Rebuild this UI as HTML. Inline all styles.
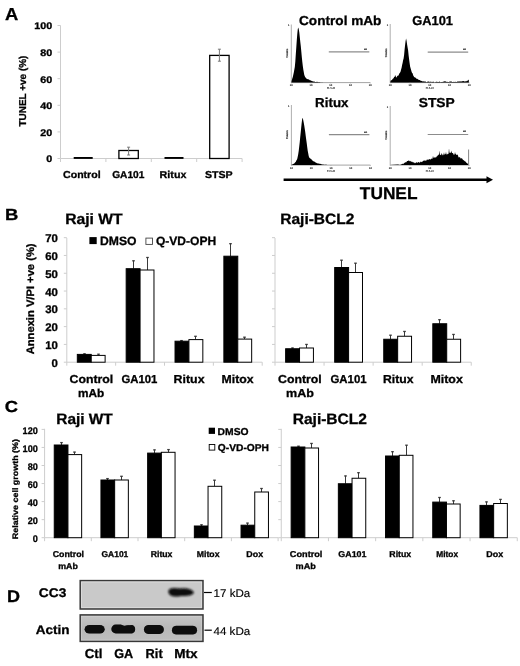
<!DOCTYPE html>
<html><head><meta charset="utf-8"><style>
html,body{margin:0;padding:0;background:#fff;}
svg{display:block;font-family:"Liberation Sans", Arial, sans-serif;font-weight:bold;text-rendering:geometricPrecision;}
text{stroke:currentColor;stroke-width:0.3px;}
text[font-weight=normal]{stroke-width:0.15px;}
</style></head><body>
<svg width="520" height="666" viewBox="0 0 520 666">
<rect x="0" y="0" width="520" height="666" fill="#fff"/>
<text x="4.94" y="20.00" font-size="17.4" textLength="13.26" lengthAdjust="spacingAndGlyphs">A</text>
<line x1="60.50" y1="25.50" x2="60.50" y2="158.50" stroke="#cdcdcd" stroke-width="1"/>
<line x1="60.50" y1="158.50" x2="242.10" y2="158.50" stroke="#cdcdcd" stroke-width="1"/>
<line x1="57.50" y1="158.50" x2="60.50" y2="158.50" stroke="#cdcdcd" stroke-width="1"/>
<text x="46.26" y="162.40" font-size="9.6" textLength="5.98" lengthAdjust="spacingAndGlyphs">0</text>
<line x1="57.50" y1="131.90" x2="60.50" y2="131.90" stroke="#cdcdcd" stroke-width="1"/>
<text x="40.30" y="135.80" font-size="9.6" textLength="11.96" lengthAdjust="spacingAndGlyphs">20</text>
<line x1="57.50" y1="105.30" x2="60.50" y2="105.30" stroke="#cdcdcd" stroke-width="1"/>
<text x="40.30" y="109.20" font-size="9.6" textLength="11.96" lengthAdjust="spacingAndGlyphs">40</text>
<line x1="57.50" y1="78.70" x2="60.50" y2="78.70" stroke="#cdcdcd" stroke-width="1"/>
<text x="40.30" y="82.60" font-size="9.6" textLength="11.96" lengthAdjust="spacingAndGlyphs">60</text>
<line x1="57.50" y1="52.10" x2="60.50" y2="52.10" stroke="#cdcdcd" stroke-width="1"/>
<text x="40.30" y="56.00" font-size="9.6" textLength="11.96" lengthAdjust="spacingAndGlyphs">80</text>
<line x1="57.50" y1="25.50" x2="60.50" y2="25.50" stroke="#cdcdcd" stroke-width="1"/>
<text x="34.33" y="29.40" font-size="9.6" textLength="17.94" lengthAdjust="spacingAndGlyphs">100</text>
<line x1="60.50" y1="158.50" x2="60.50" y2="162.00" stroke="#cdcdcd" stroke-width="1"/>
<line x1="105.90" y1="158.50" x2="105.90" y2="162.00" stroke="#cdcdcd" stroke-width="1"/>
<line x1="151.30" y1="158.50" x2="151.30" y2="162.00" stroke="#cdcdcd" stroke-width="1"/>
<line x1="196.70" y1="158.50" x2="196.70" y2="162.00" stroke="#cdcdcd" stroke-width="1"/>
<line x1="242.10" y1="158.50" x2="242.10" y2="162.00" stroke="#cdcdcd" stroke-width="1"/>
<text x="26.20" y="126.60" font-size="10" transform="rotate(-90 26.20 126.60)" textLength="71.07" lengthAdjust="spacingAndGlyphs">TUNEL +ve (%)</text>
<rect x="73.70" y="157.00" width="19.00" height="1.90" fill="#000"/>
<text x="63.08" y="177.50" font-size="10" textLength="37.51" lengthAdjust="spacingAndGlyphs">Control</text>
<rect x="118.90" y="150.50" width="19.40" height="8.00" fill="#fff" stroke="#000" stroke-width="1.3"/>
<line x1="128.60" y1="147.20" x2="128.60" y2="155.00" stroke="#777" stroke-width="1"/>
<line x1="127.10" y1="147.20" x2="130.10" y2="147.20" stroke="#777" stroke-width="1"/>
<line x1="127.10" y1="155.00" x2="130.10" y2="155.00" stroke="#777" stroke-width="1"/>
<text x="112.19" y="177.50" font-size="10" textLength="32.20" lengthAdjust="spacingAndGlyphs">GA101</text>
<rect x="164.50" y="157.00" width="19.00" height="1.90" fill="#000"/>
<text x="159.60" y="177.50" font-size="10" textLength="26.80" lengthAdjust="spacingAndGlyphs">Ritux</text>
<rect x="209.70" y="55.40" width="19.40" height="103.10" fill="#fff" stroke="#000" stroke-width="1.3"/>
<line x1="219.40" y1="49.20" x2="219.40" y2="61.20" stroke="#777" stroke-width="1"/>
<line x1="217.90" y1="49.20" x2="220.90" y2="49.20" stroke="#777" stroke-width="1"/>
<line x1="217.90" y1="61.20" x2="220.90" y2="61.20" stroke="#777" stroke-width="1"/>
<text x="204.98" y="177.50" font-size="10" textLength="27.66" lengthAdjust="spacingAndGlyphs">STSP</text>
<line x1="291.30" y1="24.50" x2="291.30" y2="82.60" stroke="#999" stroke-width="0.8"/>
<line x1="291.30" y1="82.60" x2="370.30" y2="82.60" stroke="#9a9a9a" stroke-width="0.9"/>
<polygon points="291.3,82.6 291.8,80.3 292.3,78.4 292.8,76.9 293.3,74.7 293.8,72.5 294.3,69.8 294.8,67.0 295.3,61.8 295.8,54.2 296.3,47.2 296.8,39.9 297.3,33.7 297.8,29.1 298.3,27.4 298.8,29.5 299.3,32.4 299.8,37.2 300.3,41.9 300.8,46.3 301.3,51.5 301.8,57.0 302.3,61.8 302.8,66.0 303.3,69.5 303.8,72.3 304.3,75.0 304.8,76.3 305.3,77.3 305.8,77.8 306.3,78.5 306.8,78.8 307.3,78.9 307.8,79.2 308.3,79.2 308.8,79.5 309.3,79.8 309.8,80.2 310.3,80.3 310.8,80.4 311.3,80.7 311.8,80.9 312.3,81.0 312.8,81.4 313.3,81.6 313.8,81.4 314.3,81.6 314.8,81.7 315.3,81.9 315.8,81.9 316.3,81.7 316.8,82.1 317.3,81.7 317.8,81.9 318.3,82.2 318.8,81.9 319.3,82.2 319.8,82.0 320.3,82.3 320.8,82.4 321.3,82.3 321.8,82.5 322.3,82.2 322.8,82.5 323.3,82.4 323.8,82.5 324.3,82.4 324.8,82.6 325.3,82.6 325.8,82.5 326.3,82.6 326.8,82.4 326.8,82.6" fill="#000"/>
<line x1="328.80" y1="51.80" x2="369.30" y2="51.80" stroke="#8c8c8c" stroke-width="1.2"/>
<text x="364.00" y="49.60" font-size="2.2" font-weight="normal" fill="#333" stroke="#333">M1</text>
<text x="291.30" y="86.00" font-size="2.6" font-weight="normal" text-anchor="middle" fill="#777" stroke="#777">10</text>
<line x1="291.30" y1="82.60" x2="291.30" y2="83.40" stroke="#999" stroke-width="0.6"/>
<text x="311.05" y="86.00" font-size="2.6" font-weight="normal" text-anchor="middle" fill="#777" stroke="#777">10</text>
<line x1="311.05" y1="82.60" x2="311.05" y2="83.40" stroke="#999" stroke-width="0.6"/>
<text x="330.80" y="86.00" font-size="2.6" font-weight="normal" text-anchor="middle" fill="#777" stroke="#777">10</text>
<line x1="330.80" y1="82.60" x2="330.80" y2="83.40" stroke="#999" stroke-width="0.6"/>
<text x="350.55" y="86.00" font-size="2.6" font-weight="normal" text-anchor="middle" fill="#777" stroke="#777">10</text>
<line x1="350.55" y1="82.60" x2="350.55" y2="83.40" stroke="#999" stroke-width="0.6"/>
<text x="370.30" y="86.00" font-size="2.6" font-weight="normal" text-anchor="middle" fill="#777" stroke="#777">10</text>
<line x1="370.30" y1="82.60" x2="370.30" y2="83.40" stroke="#999" stroke-width="0.6"/>
<text x="330.80" y="89.40" font-size="2.8" font-weight="normal" text-anchor="middle" fill="#777" stroke="#777">FL1-H</text>
<text x="288.00" y="53.05" font-size="2.8" font-weight="normal" text-anchor="middle" fill="#666" stroke="#666" transform="rotate(-90 288.00 53.05)">Counts</text>
<text x="288.70" y="26.10" font-size="2.6" font-weight="normal" text-anchor="middle" fill="#777" stroke="#777">1</text>
<text x="299.06" y="24.50" font-size="13" textLength="82.39" lengthAdjust="spacingAndGlyphs">Control mAb</text>
<line x1="390.20" y1="24.00" x2="390.20" y2="82.60" stroke="#999" stroke-width="0.8"/>
<line x1="390.20" y1="82.60" x2="469.20" y2="82.60" stroke="#9a9a9a" stroke-width="0.9"/>
<polygon points="390.2,82.6 390.6,80.7 391.1,80.3 391.6,80.2 392.1,79.7 392.6,78.9 393.1,78.5 393.6,78.3 394.1,77.1 394.6,77.1 395.1,74.9 395.6,76.0 396.1,77.2 396.6,77.4 397.1,76.2 397.6,75.8 398.1,75.5 398.6,75.4 399.1,73.7 399.6,73.2 400.1,72.4 400.6,71.5 401.1,69.5 401.6,67.7 402.1,65.1 402.6,62.9 403.1,60.3 403.6,58.5 404.1,55.1 404.6,49.4 405.1,45.1 405.6,40.9 406.1,38.4 406.6,41.1 407.1,44.6 407.6,47.4 408.1,50.3 408.6,55.3 409.1,59.3 409.6,63.0 410.1,66.6 410.6,68.3 411.1,70.1 411.6,71.8 412.1,72.9 412.6,73.3 413.1,75.2 413.6,76.1 414.1,76.9 414.6,77.3 415.1,77.4 415.6,77.8 416.1,78.1 416.6,79.0 417.1,78.8 417.6,79.1 418.1,79.5 418.6,79.7 419.1,80.1 419.6,80.1 420.1,80.3 420.6,80.7 421.1,80.7 421.6,81.1 422.1,80.9 422.6,81.6 423.1,81.5 423.6,81.2 424.1,81.4 424.6,81.5 425.1,81.6 425.6,81.5 426.1,82.1 426.6,82.2 427.1,81.8 427.6,81.8 428.1,81.5 428.6,81.5 429.1,81.7 429.6,81.7 430.1,82.2 430.6,81.6 431.1,81.5 431.6,82.3 432.1,82.0 432.6,81.7 433.1,82.0 433.6,81.6 434.1,82.0 434.6,82.4 435.1,82.3 435.6,82.1 436.1,81.8 436.6,81.8 437.1,81.7 437.6,82.1 438.1,81.9 438.6,82.1 439.1,81.7 439.6,81.6 440.1,82.1 440.6,82.2 441.1,82.1 441.6,82.1 442.1,82.0 442.6,82.0 443.1,81.5 443.6,81.8 444.1,81.6 444.6,81.3 445.1,81.3 445.6,81.5 446.1,81.5 446.6,81.9 447.1,82.1 447.6,81.7 448.1,82.1 448.6,82.1 449.1,82.1 449.6,81.6 450.1,81.5 450.6,81.5 451.1,81.5 451.6,81.5 452.1,81.9 452.6,82.1 453.1,82.1 453.6,81.8 454.1,81.9 454.6,82.0 455.1,81.4 455.6,81.9 456.1,82.0 456.6,81.9 457.1,81.8 457.6,81.5 458.1,81.2 458.6,81.7 459.1,81.2 459.6,81.6 460.1,81.7 460.6,81.2 461.1,81.2 461.6,81.6 462.1,81.4 462.6,81.0 463.1,80.9 463.6,80.9 464.1,81.6 464.6,81.5 465.1,80.9 465.6,81.4 466.1,81.4 466.6,81.1 467.1,80.7 467.6,80.8 468.1,80.3 468.8,79.5 468.9,82.6 468.9,82.6" fill="#000"/>
<line x1="427.70" y1="52.20" x2="468.20" y2="52.20" stroke="#8c8c8c" stroke-width="1.2"/>
<text x="462.90" y="50.00" font-size="2.2" font-weight="normal" fill="#333" stroke="#333">M1</text>
<text x="390.20" y="86.00" font-size="2.6" font-weight="normal" text-anchor="middle" fill="#777" stroke="#777">10</text>
<line x1="390.20" y1="82.60" x2="390.20" y2="83.40" stroke="#999" stroke-width="0.6"/>
<text x="409.95" y="86.00" font-size="2.6" font-weight="normal" text-anchor="middle" fill="#777" stroke="#777">10</text>
<line x1="409.95" y1="82.60" x2="409.95" y2="83.40" stroke="#999" stroke-width="0.6"/>
<text x="429.70" y="86.00" font-size="2.6" font-weight="normal" text-anchor="middle" fill="#777" stroke="#777">10</text>
<line x1="429.70" y1="82.60" x2="429.70" y2="83.40" stroke="#999" stroke-width="0.6"/>
<text x="449.45" y="86.00" font-size="2.6" font-weight="normal" text-anchor="middle" fill="#777" stroke="#777">10</text>
<line x1="449.45" y1="82.60" x2="449.45" y2="83.40" stroke="#999" stroke-width="0.6"/>
<text x="469.20" y="86.00" font-size="2.6" font-weight="normal" text-anchor="middle" fill="#777" stroke="#777">10</text>
<line x1="469.20" y1="82.60" x2="469.20" y2="83.40" stroke="#999" stroke-width="0.6"/>
<text x="429.70" y="89.40" font-size="2.8" font-weight="normal" text-anchor="middle" fill="#777" stroke="#777">FL1-H</text>
<text x="386.90" y="52.80" font-size="2.8" font-weight="normal" text-anchor="middle" fill="#666" stroke="#666" transform="rotate(-90 386.90 52.80)">Counts</text>
<text x="387.60" y="25.60" font-size="2.6" font-weight="normal" text-anchor="middle" fill="#777" stroke="#777">1</text>
<text x="412.29" y="24.50" font-size="13" textLength="40.68" lengthAdjust="spacingAndGlyphs">GA101</text>
<line x1="291.40" y1="105.00" x2="291.40" y2="165.10" stroke="#999" stroke-width="0.8"/>
<line x1="291.40" y1="165.10" x2="370.40" y2="165.10" stroke="#9a9a9a" stroke-width="0.9"/>
<polygon points="291.4,165.1 293.7,163.7 294.2,163.6 294.7,162.9 295.2,162.3 295.7,162.0 296.2,160.8 296.7,160.0 297.2,159.0 297.7,156.8 298.2,154.3 298.7,151.1 299.2,146.7 299.7,142.4 300.2,137.3 300.7,132.5 301.2,127.4 301.7,122.8 302.2,118.9 302.7,117.8 303.2,120.0 303.7,122.4 304.2,125.3 304.7,128.6 305.2,131.8 305.7,135.7 306.2,139.6 306.7,143.1 307.2,147.1 307.7,150.7 308.2,153.2 308.7,156.0 309.2,157.4 309.7,157.9 310.2,158.5 310.7,158.8 311.2,159.1 311.7,159.7 312.2,160.2 312.7,160.8 313.2,161.0 313.7,161.4 314.2,161.5 314.7,161.8 315.2,162.3 315.7,162.4 316.2,162.7 316.7,163.0 317.2,163.4 317.7,163.3 318.2,163.5 318.7,163.5 319.2,163.7 319.7,163.8 320.2,163.8 320.7,164.0 321.2,164.0 321.7,164.4 322.2,164.4 322.7,164.5 323.2,164.7 323.7,164.4 324.2,164.6 324.7,164.9 325.2,164.9 325.7,164.6 326.2,164.6 326.7,164.9 326.7,165.1" fill="#000"/>
<line x1="328.90" y1="134.70" x2="369.40" y2="134.70" stroke="#8c8c8c" stroke-width="1.2"/>
<text x="364.10" y="132.50" font-size="2.2" font-weight="normal" fill="#333" stroke="#333">M1</text>
<text x="291.40" y="168.50" font-size="2.6" font-weight="normal" text-anchor="middle" fill="#777" stroke="#777">10</text>
<line x1="291.40" y1="165.10" x2="291.40" y2="165.90" stroke="#999" stroke-width="0.6"/>
<text x="311.15" y="168.50" font-size="2.6" font-weight="normal" text-anchor="middle" fill="#777" stroke="#777">10</text>
<line x1="311.15" y1="165.10" x2="311.15" y2="165.90" stroke="#999" stroke-width="0.6"/>
<text x="330.90" y="168.50" font-size="2.6" font-weight="normal" text-anchor="middle" fill="#777" stroke="#777">10</text>
<line x1="330.90" y1="165.10" x2="330.90" y2="165.90" stroke="#999" stroke-width="0.6"/>
<text x="350.65" y="168.50" font-size="2.6" font-weight="normal" text-anchor="middle" fill="#777" stroke="#777">10</text>
<line x1="350.65" y1="165.10" x2="350.65" y2="165.90" stroke="#999" stroke-width="0.6"/>
<text x="370.40" y="168.50" font-size="2.6" font-weight="normal" text-anchor="middle" fill="#777" stroke="#777">10</text>
<line x1="370.40" y1="165.10" x2="370.40" y2="165.90" stroke="#999" stroke-width="0.6"/>
<text x="330.90" y="171.90" font-size="2.8" font-weight="normal" text-anchor="middle" fill="#777" stroke="#777">FL1-H</text>
<text x="288.10" y="134.55" font-size="2.8" font-weight="normal" text-anchor="middle" fill="#666" stroke="#666" transform="rotate(-90 288.10 134.55)">Counts</text>
<text x="288.80" y="106.60" font-size="2.6" font-weight="normal" text-anchor="middle" fill="#777" stroke="#777">1</text>
<text x="315.13" y="106.90" font-size="13" textLength="33.30" lengthAdjust="spacingAndGlyphs">Ritux</text>
<line x1="390.20" y1="106.00" x2="390.20" y2="165.10" stroke="#999" stroke-width="0.8"/>
<line x1="390.20" y1="165.10" x2="469.20" y2="165.10" stroke="#9a9a9a" stroke-width="0.9"/>
<polygon points="390.2,165.1 398.0,164.6 398.5,164.7 399.0,164.4 399.5,164.9 400.0,165.0 400.5,165.0 401.0,164.1 401.5,164.5 402.0,164.3 402.5,163.5 403.0,164.2 403.5,164.0 404.0,162.8 404.5,163.3 405.0,162.3 405.5,162.2 406.0,162.6 406.5,162.1 407.0,161.0 407.5,161.1 408.0,161.0 408.5,160.6 409.0,160.5 409.5,160.9 410.0,161.6 410.5,160.8 411.0,161.7 411.5,161.8 412.0,161.4 412.5,161.9 413.0,162.4 413.5,162.4 414.0,162.0 414.5,163.2 415.0,163.0 415.5,163.3 416.0,162.2 416.5,162.5 417.0,162.2 417.5,163.0 418.0,162.3 418.5,162.0 419.0,162.2 419.5,162.8 420.0,162.5 420.5,161.7 421.0,161.4 421.5,162.3 422.0,161.7 422.5,161.8 423.0,160.7 423.5,160.5 424.0,161.2 424.5,160.6 425.0,159.9 425.5,161.0 426.0,160.4 426.5,160.5 427.0,159.3 427.5,160.3 428.0,159.0 428.5,160.1 429.0,159.4 429.5,159.1 430.0,159.3 430.5,159.8 431.0,158.7 431.5,158.4 432.0,158.9 432.5,158.4 433.0,155.8 433.5,157.9 434.0,157.5 434.5,157.6 435.0,157.6 435.5,157.3 436.0,157.7 436.5,156.5 437.0,156.6 437.5,155.6 438.0,155.6 438.5,154.6 439.0,154.7 439.5,150.6 440.0,155.3 440.5,155.0 441.0,154.4 441.5,152.8 442.0,155.8 442.5,154.0 443.0,155.4 443.5,154.5 444.0,152.2 444.5,155.1 445.0,154.1 445.5,154.2 446.0,151.8 446.5,155.0 447.0,153.5 447.5,154.5 448.0,154.1 448.5,153.8 449.0,148.2 449.5,153.1 450.0,152.5 450.5,152.8 451.0,152.7 451.5,150.6 452.0,153.2 452.5,153.0 453.0,152.9 453.5,154.6 454.0,154.8 454.5,154.5 455.0,152.0 455.5,153.9 456.0,154.2 456.5,154.9 457.0,154.7 457.5,154.6 458.0,155.6 458.5,157.2 459.0,157.6 459.5,157.2 460.0,157.0 460.5,158.7 461.0,158.0 461.5,158.4 462.0,158.3 462.5,159.3 463.0,159.8 463.5,160.3 464.0,160.3 464.5,161.2 465.0,161.0 465.5,161.8 466.0,162.0 466.5,162.9 467.0,162.9 467.5,163.4 468.0,164.2 468.0,165.1" fill="#000"/>
<line x1="427.70" y1="134.50" x2="468.20" y2="134.50" stroke="#8c8c8c" stroke-width="1.2"/>
<text x="462.90" y="132.30" font-size="2.2" font-weight="normal" fill="#333" stroke="#333">M1</text>
<text x="390.20" y="168.50" font-size="2.6" font-weight="normal" text-anchor="middle" fill="#777" stroke="#777">10</text>
<line x1="390.20" y1="165.10" x2="390.20" y2="165.90" stroke="#999" stroke-width="0.6"/>
<text x="409.95" y="168.50" font-size="2.6" font-weight="normal" text-anchor="middle" fill="#777" stroke="#777">10</text>
<line x1="409.95" y1="165.10" x2="409.95" y2="165.90" stroke="#999" stroke-width="0.6"/>
<text x="429.70" y="168.50" font-size="2.6" font-weight="normal" text-anchor="middle" fill="#777" stroke="#777">10</text>
<line x1="429.70" y1="165.10" x2="429.70" y2="165.90" stroke="#999" stroke-width="0.6"/>
<text x="449.45" y="168.50" font-size="2.6" font-weight="normal" text-anchor="middle" fill="#777" stroke="#777">10</text>
<line x1="449.45" y1="165.10" x2="449.45" y2="165.90" stroke="#999" stroke-width="0.6"/>
<text x="469.20" y="168.50" font-size="2.6" font-weight="normal" text-anchor="middle" fill="#777" stroke="#777">10</text>
<line x1="469.20" y1="165.10" x2="469.20" y2="165.90" stroke="#999" stroke-width="0.6"/>
<text x="429.70" y="171.90" font-size="2.8" font-weight="normal" text-anchor="middle" fill="#777" stroke="#777">FL1-H</text>
<text x="386.90" y="135.05" font-size="2.8" font-weight="normal" text-anchor="middle" fill="#666" stroke="#666" transform="rotate(-90 386.90 135.05)">Counts</text>
<text x="387.60" y="107.60" font-size="2.6" font-weight="normal" text-anchor="middle" fill="#777" stroke="#777">1</text>
<text x="418.79" y="107.10" font-size="13" textLength="35.95" lengthAdjust="spacingAndGlyphs">STSP</text>
<line x1="468.60" y1="149.50" x2="468.60" y2="165.10" stroke="#777" stroke-width="0.9"/>
<line x1="283.60" y1="179.80" x2="488.00" y2="179.80" stroke="#000" stroke-width="2.6"/>
<polygon points="486.5,176.3 493.0,179.8 486.5,183.3" fill="#000"/>
<text x="359.83" y="199.00" font-size="17" textLength="57.65" lengthAdjust="spacingAndGlyphs">TUNEL</text>
<text x="5.05" y="220.00" font-size="16" textLength="13.32" lengthAdjust="spacingAndGlyphs">B</text>
<text x="65.23" y="224.30" font-size="15" textLength="57.45" lengthAdjust="spacingAndGlyphs">Raji WT</text>
<text x="280.24" y="224.30" font-size="15" textLength="74.18" lengthAdjust="spacingAndGlyphs">Raji-BCL2</text>
<line x1="66.80" y1="238.00" x2="66.80" y2="362.20" stroke="#cdcdcd" stroke-width="1"/>
<line x1="66.80" y1="362.20" x2="262.20" y2="362.20" stroke="#cdcdcd" stroke-width="1"/>
<line x1="63.80" y1="362.20" x2="66.80" y2="362.20" stroke="#cdcdcd" stroke-width="1"/>
<text x="51.52" y="366.68" font-size="11.2" textLength="6.35" lengthAdjust="spacingAndGlyphs">0</text>
<line x1="63.80" y1="344.41" x2="66.80" y2="344.41" stroke="#cdcdcd" stroke-width="1"/>
<text x="45.18" y="348.89" font-size="11.2" textLength="12.71" lengthAdjust="spacingAndGlyphs">10</text>
<line x1="63.80" y1="326.62" x2="66.80" y2="326.62" stroke="#cdcdcd" stroke-width="1"/>
<text x="45.18" y="331.10" font-size="11.2" textLength="12.71" lengthAdjust="spacingAndGlyphs">20</text>
<line x1="63.80" y1="308.83" x2="66.80" y2="308.83" stroke="#cdcdcd" stroke-width="1"/>
<text x="45.18" y="313.31" font-size="11.2" textLength="12.71" lengthAdjust="spacingAndGlyphs">30</text>
<line x1="63.80" y1="291.04" x2="66.80" y2="291.04" stroke="#cdcdcd" stroke-width="1"/>
<text x="45.18" y="295.52" font-size="11.2" textLength="12.71" lengthAdjust="spacingAndGlyphs">40</text>
<line x1="63.80" y1="273.25" x2="66.80" y2="273.25" stroke="#cdcdcd" stroke-width="1"/>
<text x="45.18" y="277.73" font-size="11.2" textLength="12.71" lengthAdjust="spacingAndGlyphs">50</text>
<line x1="63.80" y1="255.46" x2="66.80" y2="255.46" stroke="#cdcdcd" stroke-width="1"/>
<text x="45.18" y="259.94" font-size="11.2" textLength="12.71" lengthAdjust="spacingAndGlyphs">60</text>
<line x1="63.80" y1="237.67" x2="66.80" y2="237.67" stroke="#cdcdcd" stroke-width="1"/>
<text x="45.18" y="242.15" font-size="11.2" textLength="12.71" lengthAdjust="spacingAndGlyphs">70</text>
<line x1="66.80" y1="362.20" x2="66.80" y2="365.70" stroke="#cdcdcd" stroke-width="1"/>
<line x1="115.65" y1="362.20" x2="115.65" y2="365.70" stroke="#cdcdcd" stroke-width="1"/>
<line x1="164.50" y1="362.20" x2="164.50" y2="365.70" stroke="#cdcdcd" stroke-width="1"/>
<line x1="213.35" y1="362.20" x2="213.35" y2="365.70" stroke="#cdcdcd" stroke-width="1"/>
<line x1="262.20" y1="362.20" x2="262.20" y2="365.70" stroke="#cdcdcd" stroke-width="1"/>
<line x1="84.50" y1="354.40" x2="84.50" y2="353.60" stroke="#3a3a3a" stroke-width="1"/>
<line x1="83.20" y1="353.80" x2="85.80" y2="353.80" stroke="#3a3a3a" stroke-width="1.3"/>
<line x1="98.50" y1="355.40" x2="98.50" y2="354.00" stroke="#3a3a3a" stroke-width="1"/>
<line x1="97.20" y1="354.20" x2="99.80" y2="354.20" stroke="#3a3a3a" stroke-width="1.3"/>
<rect x="77.32" y="354.40" width="13.90" height="7.80" fill="#000" stroke="#000" stroke-width="1"/>
<rect x="91.22" y="355.40" width="13.90" height="6.80" fill="#fff" stroke="#000" stroke-width="1"/>
<line x1="133.50" y1="268.70" x2="133.50" y2="260.60" stroke="#3a3a3a" stroke-width="1"/>
<line x1="132.20" y1="260.80" x2="134.80" y2="260.80" stroke="#3a3a3a" stroke-width="1.3"/>
<line x1="147.50" y1="270.00" x2="147.50" y2="257.30" stroke="#3a3a3a" stroke-width="1"/>
<line x1="146.20" y1="257.50" x2="148.80" y2="257.50" stroke="#3a3a3a" stroke-width="1.3"/>
<rect x="126.17" y="268.70" width="13.90" height="93.50" fill="#000" stroke="#000" stroke-width="1"/>
<rect x="140.07" y="270.00" width="13.90" height="92.20" fill="#fff" stroke="#000" stroke-width="1"/>
<line x1="181.50" y1="341.20" x2="181.50" y2="340.40" stroke="#3a3a3a" stroke-width="1"/>
<line x1="180.20" y1="340.60" x2="182.80" y2="340.60" stroke="#3a3a3a" stroke-width="1.3"/>
<line x1="195.50" y1="339.60" x2="195.50" y2="336.10" stroke="#3a3a3a" stroke-width="1"/>
<line x1="194.20" y1="336.30" x2="196.80" y2="336.30" stroke="#3a3a3a" stroke-width="1.3"/>
<rect x="175.03" y="341.20" width="13.90" height="21.00" fill="#000" stroke="#000" stroke-width="1"/>
<rect x="188.93" y="339.60" width="13.90" height="22.60" fill="#fff" stroke="#000" stroke-width="1"/>
<line x1="230.50" y1="256.20" x2="230.50" y2="243.50" stroke="#3a3a3a" stroke-width="1"/>
<line x1="229.20" y1="243.70" x2="231.80" y2="243.70" stroke="#3a3a3a" stroke-width="1.3"/>
<line x1="244.50" y1="339.10" x2="244.50" y2="337.00" stroke="#3a3a3a" stroke-width="1"/>
<line x1="243.20" y1="337.20" x2="245.80" y2="337.20" stroke="#3a3a3a" stroke-width="1.3"/>
<rect x="223.87" y="256.20" width="13.90" height="106.00" fill="#000" stroke="#000" stroke-width="1"/>
<rect x="237.77" y="339.10" width="13.90" height="23.10" fill="#fff" stroke="#000" stroke-width="1"/>
<line x1="275.00" y1="238.00" x2="275.00" y2="362.20" stroke="#cdcdcd" stroke-width="1"/>
<line x1="275.00" y1="362.20" x2="471.24" y2="362.20" stroke="#cdcdcd" stroke-width="1"/>
<line x1="272.00" y1="362.20" x2="275.00" y2="362.20" stroke="#cdcdcd" stroke-width="1"/>
<line x1="272.00" y1="344.41" x2="275.00" y2="344.41" stroke="#cdcdcd" stroke-width="1"/>
<line x1="272.00" y1="326.62" x2="275.00" y2="326.62" stroke="#cdcdcd" stroke-width="1"/>
<line x1="272.00" y1="308.83" x2="275.00" y2="308.83" stroke="#cdcdcd" stroke-width="1"/>
<line x1="272.00" y1="291.04" x2="275.00" y2="291.04" stroke="#cdcdcd" stroke-width="1"/>
<line x1="272.00" y1="273.25" x2="275.00" y2="273.25" stroke="#cdcdcd" stroke-width="1"/>
<line x1="272.00" y1="255.46" x2="275.00" y2="255.46" stroke="#cdcdcd" stroke-width="1"/>
<line x1="272.00" y1="237.67" x2="275.00" y2="237.67" stroke="#cdcdcd" stroke-width="1"/>
<line x1="275.00" y1="362.20" x2="275.00" y2="365.70" stroke="#cdcdcd" stroke-width="1"/>
<line x1="324.06" y1="362.20" x2="324.06" y2="365.70" stroke="#cdcdcd" stroke-width="1"/>
<line x1="373.12" y1="362.20" x2="373.12" y2="365.70" stroke="#cdcdcd" stroke-width="1"/>
<line x1="422.18" y1="362.20" x2="422.18" y2="365.70" stroke="#cdcdcd" stroke-width="1"/>
<line x1="471.24" y1="362.20" x2="471.24" y2="365.70" stroke="#cdcdcd" stroke-width="1"/>
<line x1="292.50" y1="348.75" x2="292.50" y2="347.80" stroke="#3a3a3a" stroke-width="1"/>
<line x1="291.20" y1="348.00" x2="293.80" y2="348.00" stroke="#3a3a3a" stroke-width="1.3"/>
<line x1="306.50" y1="348.00" x2="306.50" y2="344.25" stroke="#3a3a3a" stroke-width="1"/>
<line x1="305.20" y1="344.45" x2="307.80" y2="344.45" stroke="#3a3a3a" stroke-width="1.3"/>
<rect x="285.63" y="348.75" width="13.90" height="13.45" fill="#000" stroke="#000" stroke-width="1"/>
<rect x="299.53" y="348.00" width="13.90" height="14.20" fill="#fff" stroke="#000" stroke-width="1"/>
<line x1="341.50" y1="267.50" x2="341.50" y2="260.00" stroke="#3a3a3a" stroke-width="1"/>
<line x1="340.20" y1="260.20" x2="342.80" y2="260.20" stroke="#3a3a3a" stroke-width="1.3"/>
<line x1="355.50" y1="272.50" x2="355.50" y2="263.00" stroke="#3a3a3a" stroke-width="1"/>
<line x1="354.20" y1="263.20" x2="356.80" y2="263.20" stroke="#3a3a3a" stroke-width="1.3"/>
<rect x="334.69" y="267.50" width="13.90" height="94.70" fill="#000" stroke="#000" stroke-width="1"/>
<rect x="348.59" y="272.50" width="13.90" height="89.70" fill="#fff" stroke="#000" stroke-width="1"/>
<line x1="390.50" y1="339.25" x2="390.50" y2="335.00" stroke="#3a3a3a" stroke-width="1"/>
<line x1="389.20" y1="335.20" x2="391.80" y2="335.20" stroke="#3a3a3a" stroke-width="1.3"/>
<line x1="404.50" y1="336.25" x2="404.50" y2="331.25" stroke="#3a3a3a" stroke-width="1"/>
<line x1="403.20" y1="331.45" x2="405.80" y2="331.45" stroke="#3a3a3a" stroke-width="1.3"/>
<rect x="383.75" y="339.25" width="13.90" height="22.95" fill="#000" stroke="#000" stroke-width="1"/>
<rect x="397.65" y="336.25" width="13.90" height="25.95" fill="#fff" stroke="#000" stroke-width="1"/>
<line x1="439.50" y1="323.75" x2="439.50" y2="319.50" stroke="#3a3a3a" stroke-width="1"/>
<line x1="438.20" y1="319.70" x2="440.80" y2="319.70" stroke="#3a3a3a" stroke-width="1.3"/>
<line x1="453.50" y1="339.25" x2="453.50" y2="334.25" stroke="#3a3a3a" stroke-width="1"/>
<line x1="452.20" y1="334.45" x2="454.80" y2="334.45" stroke="#3a3a3a" stroke-width="1.3"/>
<rect x="432.81" y="323.75" width="13.90" height="38.45" fill="#000" stroke="#000" stroke-width="1"/>
<rect x="446.71" y="339.25" width="13.90" height="22.95" fill="#fff" stroke="#000" stroke-width="1"/>
<text x="34.10" y="354.28" font-size="10.8" transform="rotate(-90 34.10 354.28)" textLength="110.83" lengthAdjust="spacingAndGlyphs">Annexin V/PI +ve (%)</text>
<rect x="89.40" y="237.10" width="7.30" height="7.00" fill="#000"/>
<text x="100.01" y="244.60" font-size="12" textLength="36.54" lengthAdjust="spacingAndGlyphs">DMSO</text>
<rect x="145.90" y="238.10" width="6.60" height="6.30" fill="#fff" stroke="#444" stroke-width="0.9"/>
<text x="155.92" y="244.60" font-size="12" textLength="60.27" lengthAdjust="spacingAndGlyphs">Q-VD-OPH</text>
<text x="69.51" y="383.00" font-size="11.5" textLength="43.71" lengthAdjust="spacingAndGlyphs">Control</text>
<text x="121.45" y="383.00" font-size="11.5" textLength="35.98" lengthAdjust="spacingAndGlyphs">GA101</text>
<text x="173.60" y="383.00" font-size="11.5" textLength="30.93" lengthAdjust="spacingAndGlyphs">Ritux</text>
<text x="221.60" y="383.00" font-size="11.5" textLength="32.03" lengthAdjust="spacingAndGlyphs">Mitox</text>
<text x="278.01" y="383.00" font-size="11.5" textLength="43.71" lengthAdjust="spacingAndGlyphs">Control</text>
<text x="330.44" y="383.00" font-size="11.5" textLength="36.18" lengthAdjust="spacingAndGlyphs">GA101</text>
<text x="383.01" y="383.00" font-size="11.5" textLength="30.52" lengthAdjust="spacingAndGlyphs">Ritux</text>
<text x="430.49" y="383.00" font-size="11.5" textLength="32.34" lengthAdjust="spacingAndGlyphs">Mitox</text>
<text x="78.03" y="396.70" font-size="11.5" textLength="26.27" lengthAdjust="spacingAndGlyphs">mAb</text>
<text x="286.09" y="396.70" font-size="11.5" textLength="27.84" lengthAdjust="spacingAndGlyphs">mAb</text>
<text x="4.77" y="411.80" font-size="16" textLength="13.23" lengthAdjust="spacingAndGlyphs">C</text>
<text x="56.30" y="424.30" font-size="15" textLength="56.48" lengthAdjust="spacingAndGlyphs">Raji WT</text>
<text x="292.74" y="424.30" font-size="15" textLength="74.18" lengthAdjust="spacingAndGlyphs">Raji-BCL2</text>
<line x1="44.60" y1="428.80" x2="44.60" y2="537.70" stroke="#cdcdcd" stroke-width="1"/>
<line x1="44.60" y1="537.70" x2="278.10" y2="537.70" stroke="#cdcdcd" stroke-width="1"/>
<line x1="41.60" y1="537.70" x2="44.60" y2="537.70" stroke="#cdcdcd" stroke-width="1"/>
<text x="32.70" y="542.21" font-size="9.6" textLength="5.07" lengthAdjust="spacingAndGlyphs">0</text>
<line x1="41.60" y1="519.65" x2="44.60" y2="519.65" stroke="#cdcdcd" stroke-width="1"/>
<text x="27.64" y="524.16" font-size="9.6" textLength="10.14" lengthAdjust="spacingAndGlyphs">20</text>
<line x1="41.60" y1="501.60" x2="44.60" y2="501.60" stroke="#cdcdcd" stroke-width="1"/>
<text x="27.64" y="506.11" font-size="9.6" textLength="10.14" lengthAdjust="spacingAndGlyphs">40</text>
<line x1="41.60" y1="483.55" x2="44.60" y2="483.55" stroke="#cdcdcd" stroke-width="1"/>
<text x="27.64" y="488.06" font-size="9.6" textLength="10.14" lengthAdjust="spacingAndGlyphs">60</text>
<line x1="41.60" y1="465.50" x2="44.60" y2="465.50" stroke="#cdcdcd" stroke-width="1"/>
<text x="27.64" y="470.01" font-size="9.6" textLength="10.14" lengthAdjust="spacingAndGlyphs">80</text>
<line x1="41.60" y1="447.45" x2="44.60" y2="447.45" stroke="#cdcdcd" stroke-width="1"/>
<text x="22.58" y="451.96" font-size="9.6" textLength="15.22" lengthAdjust="spacingAndGlyphs">100</text>
<line x1="41.60" y1="429.40" x2="44.60" y2="429.40" stroke="#cdcdcd" stroke-width="1"/>
<text x="22.58" y="433.91" font-size="9.6" textLength="15.22" lengthAdjust="spacingAndGlyphs">120</text>
<line x1="44.60" y1="537.70" x2="44.60" y2="541.20" stroke="#cdcdcd" stroke-width="1"/>
<line x1="91.30" y1="537.70" x2="91.30" y2="541.20" stroke="#cdcdcd" stroke-width="1"/>
<line x1="138.00" y1="537.70" x2="138.00" y2="541.20" stroke="#cdcdcd" stroke-width="1"/>
<line x1="184.70" y1="537.70" x2="184.70" y2="541.20" stroke="#cdcdcd" stroke-width="1"/>
<line x1="231.40" y1="537.70" x2="231.40" y2="541.20" stroke="#cdcdcd" stroke-width="1"/>
<line x1="278.10" y1="537.70" x2="278.10" y2="541.20" stroke="#cdcdcd" stroke-width="1"/>
<line x1="61.50" y1="445.00" x2="61.50" y2="442.40" stroke="#3a3a3a" stroke-width="1"/>
<line x1="60.20" y1="442.60" x2="62.80" y2="442.60" stroke="#3a3a3a" stroke-width="1.3"/>
<line x1="74.50" y1="454.60" x2="74.50" y2="451.90" stroke="#3a3a3a" stroke-width="1"/>
<line x1="73.20" y1="452.10" x2="75.80" y2="452.10" stroke="#3a3a3a" stroke-width="1.3"/>
<rect x="54.25" y="445.00" width="13.70" height="92.70" fill="#000" stroke="#000" stroke-width="1"/>
<rect x="67.95" y="454.60" width="13.70" height="83.10" fill="#fff" stroke="#000" stroke-width="1"/>
<line x1="107.50" y1="480.00" x2="107.50" y2="478.40" stroke="#3a3a3a" stroke-width="1"/>
<line x1="106.20" y1="478.60" x2="108.80" y2="478.60" stroke="#3a3a3a" stroke-width="1.3"/>
<line x1="121.50" y1="480.00" x2="121.50" y2="476.10" stroke="#3a3a3a" stroke-width="1"/>
<line x1="120.20" y1="476.30" x2="122.80" y2="476.30" stroke="#3a3a3a" stroke-width="1.3"/>
<rect x="100.95" y="480.00" width="13.70" height="57.70" fill="#000" stroke="#000" stroke-width="1"/>
<rect x="114.65" y="480.00" width="13.70" height="57.70" fill="#fff" stroke="#000" stroke-width="1"/>
<line x1="154.50" y1="453.10" x2="154.50" y2="449.70" stroke="#3a3a3a" stroke-width="1"/>
<line x1="153.20" y1="449.90" x2="155.80" y2="449.90" stroke="#3a3a3a" stroke-width="1.3"/>
<line x1="168.50" y1="452.30" x2="168.50" y2="449.40" stroke="#3a3a3a" stroke-width="1"/>
<line x1="167.20" y1="449.60" x2="169.80" y2="449.60" stroke="#3a3a3a" stroke-width="1.3"/>
<rect x="147.65" y="453.10" width="13.70" height="84.60" fill="#000" stroke="#000" stroke-width="1"/>
<rect x="161.35" y="452.30" width="13.70" height="85.40" fill="#fff" stroke="#000" stroke-width="1"/>
<line x1="201.50" y1="526.00" x2="201.50" y2="524.60" stroke="#3a3a3a" stroke-width="1"/>
<line x1="200.20" y1="524.80" x2="202.80" y2="524.80" stroke="#3a3a3a" stroke-width="1.3"/>
<line x1="214.50" y1="486.30" x2="214.50" y2="480.00" stroke="#3a3a3a" stroke-width="1"/>
<line x1="213.20" y1="480.20" x2="215.80" y2="480.20" stroke="#3a3a3a" stroke-width="1.3"/>
<rect x="194.35" y="526.00" width="13.70" height="11.70" fill="#000" stroke="#000" stroke-width="1"/>
<rect x="208.05" y="486.30" width="13.70" height="51.40" fill="#fff" stroke="#000" stroke-width="1"/>
<line x1="247.50" y1="525.20" x2="247.50" y2="522.90" stroke="#3a3a3a" stroke-width="1"/>
<line x1="246.20" y1="523.10" x2="248.80" y2="523.10" stroke="#3a3a3a" stroke-width="1.3"/>
<line x1="261.50" y1="492.00" x2="261.50" y2="488.30" stroke="#3a3a3a" stroke-width="1"/>
<line x1="260.20" y1="488.50" x2="262.80" y2="488.50" stroke="#3a3a3a" stroke-width="1.3"/>
<rect x="241.05" y="525.20" width="13.70" height="12.50" fill="#000" stroke="#000" stroke-width="1"/>
<rect x="254.75" y="492.00" width="13.70" height="45.70" fill="#fff" stroke="#000" stroke-width="1"/>
<line x1="281.25" y1="428.80" x2="281.25" y2="537.70" stroke="#cdcdcd" stroke-width="1"/>
<line x1="281.25" y1="537.70" x2="517.25" y2="537.70" stroke="#cdcdcd" stroke-width="1"/>
<line x1="278.25" y1="537.70" x2="281.25" y2="537.70" stroke="#cdcdcd" stroke-width="1"/>
<line x1="278.25" y1="519.65" x2="281.25" y2="519.65" stroke="#cdcdcd" stroke-width="1"/>
<line x1="278.25" y1="501.60" x2="281.25" y2="501.60" stroke="#cdcdcd" stroke-width="1"/>
<line x1="278.25" y1="483.55" x2="281.25" y2="483.55" stroke="#cdcdcd" stroke-width="1"/>
<line x1="278.25" y1="465.50" x2="281.25" y2="465.50" stroke="#cdcdcd" stroke-width="1"/>
<line x1="278.25" y1="447.45" x2="281.25" y2="447.45" stroke="#cdcdcd" stroke-width="1"/>
<line x1="278.25" y1="429.40" x2="281.25" y2="429.40" stroke="#cdcdcd" stroke-width="1"/>
<line x1="281.25" y1="537.70" x2="281.25" y2="541.20" stroke="#cdcdcd" stroke-width="1"/>
<line x1="328.45" y1="537.70" x2="328.45" y2="541.20" stroke="#cdcdcd" stroke-width="1"/>
<line x1="375.65" y1="537.70" x2="375.65" y2="541.20" stroke="#cdcdcd" stroke-width="1"/>
<line x1="422.85" y1="537.70" x2="422.85" y2="541.20" stroke="#cdcdcd" stroke-width="1"/>
<line x1="470.05" y1="537.70" x2="470.05" y2="541.20" stroke="#cdcdcd" stroke-width="1"/>
<line x1="517.25" y1="537.70" x2="517.25" y2="541.20" stroke="#cdcdcd" stroke-width="1"/>
<line x1="298.50" y1="447.00" x2="298.50" y2="446.00" stroke="#3a3a3a" stroke-width="1"/>
<line x1="297.20" y1="446.20" x2="299.80" y2="446.20" stroke="#3a3a3a" stroke-width="1.3"/>
<line x1="311.50" y1="448.00" x2="311.50" y2="443.25" stroke="#3a3a3a" stroke-width="1"/>
<line x1="310.20" y1="443.45" x2="312.80" y2="443.45" stroke="#3a3a3a" stroke-width="1.3"/>
<rect x="291.15" y="447.00" width="13.70" height="90.70" fill="#000" stroke="#000" stroke-width="1"/>
<rect x="304.85" y="448.00" width="13.70" height="89.70" fill="#fff" stroke="#000" stroke-width="1"/>
<line x1="345.50" y1="483.75" x2="345.50" y2="475.75" stroke="#3a3a3a" stroke-width="1"/>
<line x1="344.20" y1="475.95" x2="346.80" y2="475.95" stroke="#3a3a3a" stroke-width="1.3"/>
<line x1="358.50" y1="478.25" x2="358.50" y2="472.50" stroke="#3a3a3a" stroke-width="1"/>
<line x1="357.20" y1="472.70" x2="359.80" y2="472.70" stroke="#3a3a3a" stroke-width="1.3"/>
<rect x="338.35" y="483.75" width="13.70" height="53.95" fill="#000" stroke="#000" stroke-width="1"/>
<rect x="352.05" y="478.25" width="13.70" height="59.45" fill="#fff" stroke="#000" stroke-width="1"/>
<line x1="392.50" y1="456.00" x2="392.50" y2="451.50" stroke="#3a3a3a" stroke-width="1"/>
<line x1="391.20" y1="451.70" x2="393.80" y2="451.70" stroke="#3a3a3a" stroke-width="1.3"/>
<line x1="406.50" y1="455.30" x2="406.50" y2="445.00" stroke="#3a3a3a" stroke-width="1"/>
<line x1="405.20" y1="445.20" x2="407.80" y2="445.20" stroke="#3a3a3a" stroke-width="1.3"/>
<rect x="385.55" y="456.00" width="13.70" height="81.70" fill="#000" stroke="#000" stroke-width="1"/>
<rect x="399.25" y="455.30" width="13.70" height="82.40" fill="#fff" stroke="#000" stroke-width="1"/>
<line x1="439.50" y1="502.10" x2="439.50" y2="497.30" stroke="#3a3a3a" stroke-width="1"/>
<line x1="438.20" y1="497.50" x2="440.80" y2="497.50" stroke="#3a3a3a" stroke-width="1.3"/>
<line x1="453.50" y1="504.00" x2="453.50" y2="500.60" stroke="#3a3a3a" stroke-width="1"/>
<line x1="452.20" y1="500.80" x2="454.80" y2="500.80" stroke="#3a3a3a" stroke-width="1.3"/>
<rect x="432.75" y="502.10" width="13.70" height="35.60" fill="#000" stroke="#000" stroke-width="1"/>
<rect x="446.45" y="504.00" width="13.70" height="33.70" fill="#fff" stroke="#000" stroke-width="1"/>
<line x1="486.50" y1="505.40" x2="486.50" y2="501.70" stroke="#3a3a3a" stroke-width="1"/>
<line x1="485.20" y1="501.90" x2="487.80" y2="501.90" stroke="#3a3a3a" stroke-width="1.3"/>
<line x1="500.50" y1="503.50" x2="500.50" y2="499.20" stroke="#3a3a3a" stroke-width="1"/>
<line x1="499.20" y1="499.40" x2="501.80" y2="499.40" stroke="#3a3a3a" stroke-width="1.3"/>
<rect x="479.95" y="505.40" width="13.70" height="32.30" fill="#000" stroke="#000" stroke-width="1"/>
<rect x="493.65" y="503.50" width="13.70" height="34.20" fill="#fff" stroke="#000" stroke-width="1"/>
<text x="18.40" y="539.18" font-size="8.0" transform="rotate(-90 18.40 539.18)" textLength="100.12" lengthAdjust="spacingAndGlyphs">Relative cell growth (%)</text>
<rect x="208.70" y="427.70" width="6.30" height="6.20" fill="#000"/>
<text x="217.63" y="434.50" font-size="10" textLength="30.94" lengthAdjust="spacingAndGlyphs">DMSO</text>
<rect x="209.20" y="444.50" width="5.60" height="5.60" fill="#fff" stroke="#000" stroke-width="0.9"/>
<text x="217.89" y="450.80" font-size="10" textLength="51.07" lengthAdjust="spacingAndGlyphs">Q-VD-OPH</text>
<text x="52.75" y="556.90" font-size="8.5" textLength="31.21" lengthAdjust="spacingAndGlyphs">Control</text>
<text x="101.56" y="556.90" font-size="8.5" textLength="26.78" lengthAdjust="spacingAndGlyphs">GA101</text>
<text x="150.74" y="556.90" font-size="8.5" textLength="21.65" lengthAdjust="spacingAndGlyphs">Ritux</text>
<text x="196.84" y="556.90" font-size="8.5" textLength="22.66" lengthAdjust="spacingAndGlyphs">Mitox</text>
<text x="246.32" y="556.90" font-size="8.5" textLength="16.76" lengthAdjust="spacingAndGlyphs">Dox</text>
<text x="289.83" y="556.90" font-size="8.5" textLength="32.55" lengthAdjust="spacingAndGlyphs">Control</text>
<text x="338.35" y="556.90" font-size="8.5" textLength="28.11" lengthAdjust="spacingAndGlyphs">GA101</text>
<text x="389.33" y="556.90" font-size="8.5" textLength="21.86" lengthAdjust="spacingAndGlyphs">Ritux</text>
<text x="436.36" y="556.90" font-size="8.5" textLength="21.73" lengthAdjust="spacingAndGlyphs">Mitox</text>
<text x="486.32" y="556.90" font-size="8.5" textLength="16.86" lengthAdjust="spacingAndGlyphs">Dox</text>
<text x="58.23" y="569.20" font-size="8.5" textLength="19.65" lengthAdjust="spacingAndGlyphs">mAb</text>
<text x="295.61" y="569.20" font-size="8.5" textLength="20.28" lengthAdjust="spacingAndGlyphs">mAb</text>
<text x="6.93" y="601.70" font-size="17" textLength="13.03" lengthAdjust="spacingAndGlyphs">D</text>
<text x="38.85" y="597.30" font-size="12.5" textLength="27.44" lengthAdjust="spacingAndGlyphs">CC3</text>
<text x="35.86" y="634.00" font-size="12.5" textLength="33.75" lengthAdjust="spacingAndGlyphs">Actin</text>
<defs><filter id="blur1" x="-20%" y="-50%" width="140%" height="200%"><feGaussianBlur stdDeviation="1.0"/></filter><filter id="blur2" x="-20%" y="-50%" width="140%" height="200%"><feGaussianBlur stdDeviation="0.5"/></filter><linearGradient id="gA" x1="0" y1="0" x2="0" y2="1"><stop offset="0" stop-color="#c6c6c6"/><stop offset="0.5" stop-color="#b8b8b8"/><stop offset="1" stop-color="#bfbfbf"/></linearGradient></defs>
<rect x="80.20" y="580.60" width="122.80" height="28.40" fill="#c9c9c9" stroke="#383838" stroke-width="1.5"/>
<rect x="81.60" y="582.00" width="120.00" height="25.60" fill="none" stroke="#dedede" stroke-width="0.8"/>
<rect x="80.20" y="614.90" width="122.80" height="26.50" fill="url(#gA)" stroke="#383838" stroke-width="1.5"/>
<rect x="81.60" y="616.30" width="120.00" height="23.70" fill="none" stroke="#d0d0d0" stroke-width="0.6"/>
<path d="M168.4,591.8 C168.2,587.2 175,587.6 180.5,588.6 C185,587.8 191.8,588.6 194,592.6 C192.2,596.2 186,596.2 181,596.0 C176,597.2 168.6,597.0 168.4,591.8 Z" fill="#0a0a0a" filter="url(#blur1)"/>
<path d="M89.3,624.9 L100.0,624.9 A4.7,4.3 0 0 1 100.0,633.5 L89.3,633.5 A4.7,4.3 0 0 1 89.3,624.9 Z" fill="#080808" filter="url(#blur2)"/>
<path d="M115.7,624.6 L120.9,624.6 Q123.9,626.4 126.9,625.2 L132.1,625.0 A4.4,4.4 0 0 1 132.1,633.4 L115.7,633.4 A4.4,4.4 0 0 1 115.7,624.6 Z" fill="#080808" filter="url(#blur2)"/>
<path d="M148.2,625.0 L159.6,625.0 A5.0,4.6 0 0 1 159.6,634.1 L148.2,634.1 A5.0,4.6 0 0 1 148.2,625.0 Z" fill="#080808" filter="url(#blur2)"/>
<path d="M176.0,625.8 L193.0,625.8 A4.8,4.4 0 0 1 193.0,634.5 L176.0,634.5 A4.8,4.4 0 0 1 176.0,625.8 Z" fill="#080808" filter="url(#blur2)"/>
<line x1="204.00" y1="592.50" x2="211.80" y2="592.50" stroke="#000" stroke-width="1.2"/>
<line x1="204.50" y1="630.20" x2="211.80" y2="630.20" stroke="#000" stroke-width="1.2"/>
<text x="213.63" y="596.80" font-size="11.3" font-weight="normal" textLength="36.61" lengthAdjust="spacingAndGlyphs">17 kDa</text>
<text x="213.51" y="634.90" font-size="11.3" font-weight="normal" textLength="36.73" lengthAdjust="spacingAndGlyphs">44 kDa</text>
<text x="84.67" y="658.20" font-size="13" textLength="17.70" lengthAdjust="spacingAndGlyphs">Ctl</text>
<text x="114.30" y="658.20" font-size="13" textLength="18.92" lengthAdjust="spacingAndGlyphs">GA</text>
<text x="145.57" y="658.20" font-size="13" textLength="17.10" lengthAdjust="spacingAndGlyphs">Rit</text>
<text x="174.32" y="658.20" font-size="13" textLength="23.35" lengthAdjust="spacingAndGlyphs">Mtx</text>
</svg>
</body></html>
